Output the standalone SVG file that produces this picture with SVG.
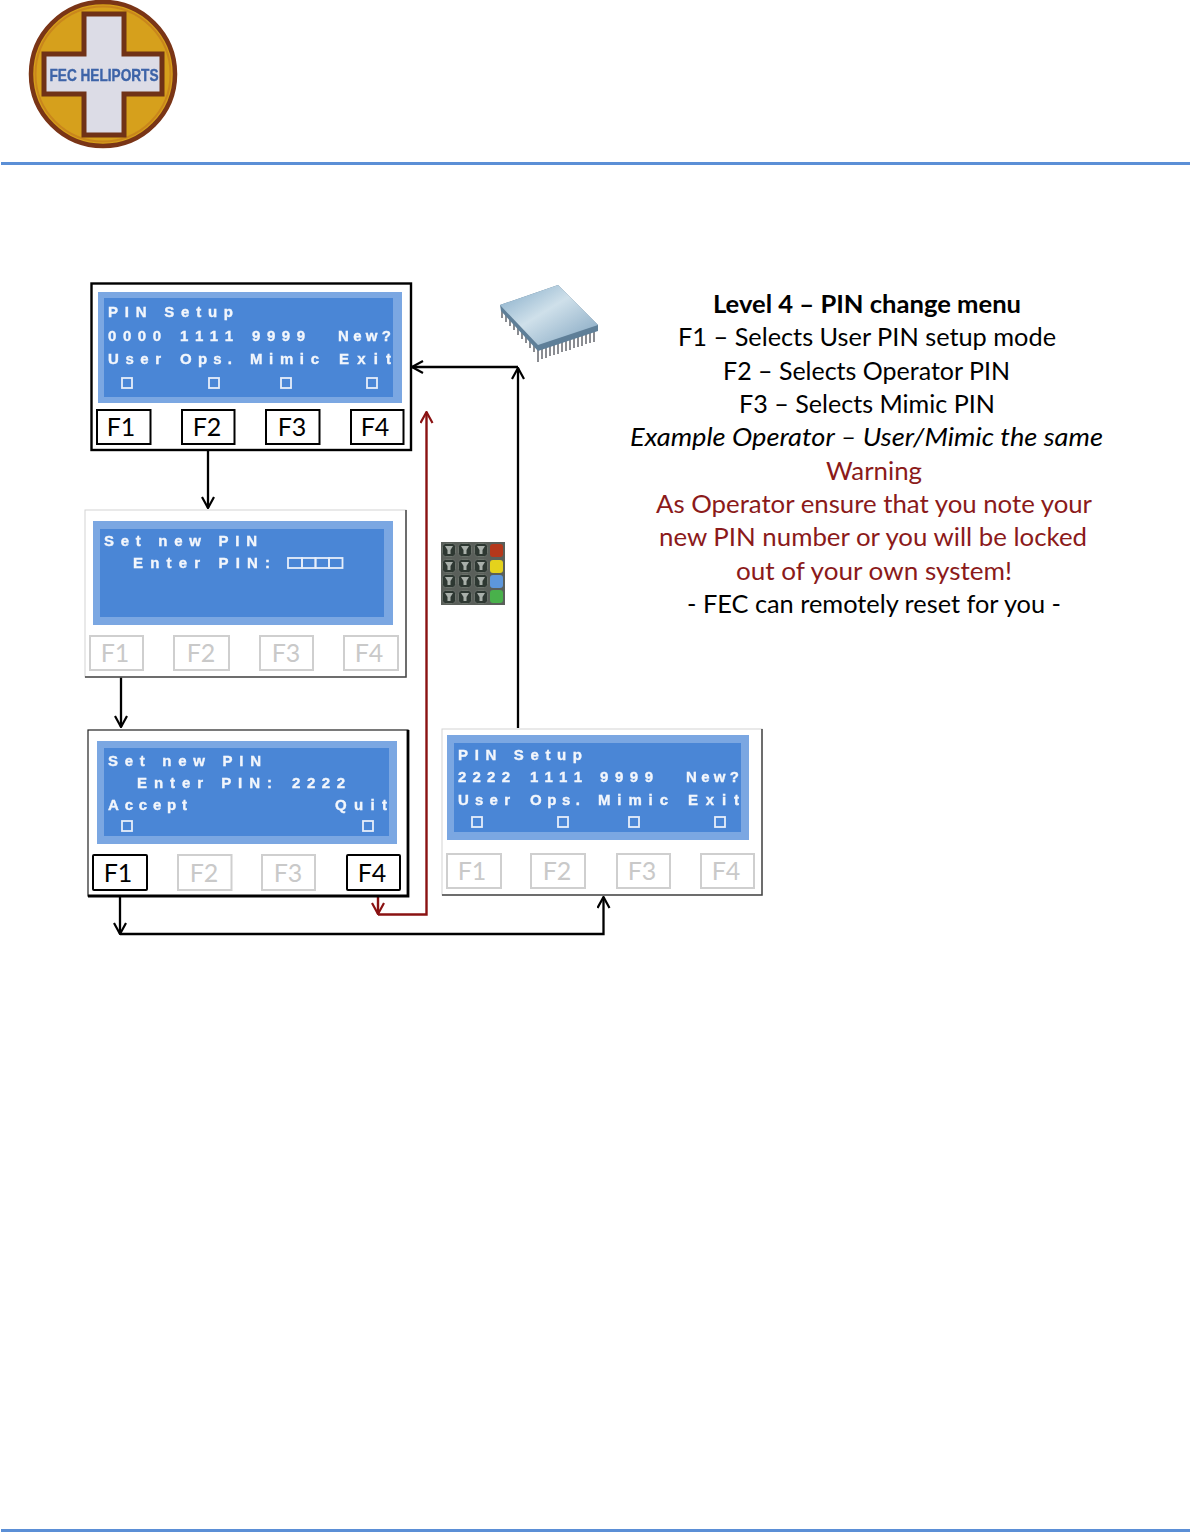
<svg xmlns="http://www.w3.org/2000/svg" width="1190" height="1532" viewBox="0 0 1190 1532">
<style>
.lcdo{fill:#7ba7e2}.lcdi{fill:#4a86d6}
.lt{font-family:"Liberation Sans",Arial,sans-serif;font-weight:bold;font-size:15px;fill:#f2f6fc;stroke:#f2f6fc;stroke-width:0.35}
.blur{filter:url(#soft)}
.cb{fill:none;stroke:#e6eefa;stroke-width:1.8}
.btn{fill:#fff;stroke:#000;stroke-width:2}
.btnf{fill:#fff;stroke:#cfcfcf;stroke-width:2}
.bt{font-family:Lato,"Open Sans",sans-serif;font-size:25px;text-anchor:middle;fill:#000}
.btf{font-family:Lato,"Open Sans",sans-serif;font-size:25px;text-anchor:middle;fill:#c9c9c9}
.t{font-family:Lato,"Open Sans",sans-serif;font-size:25px;fill:#000}
.w{fill:#8b1a1a}
.c{fill:none;stroke:#000;stroke-width:2.3}
.r{fill:none;stroke:#8a1212;stroke-width:2.4}
.rule{stroke:#5b8fd6;stroke-width:3}
.key{fill:#2f3833;stroke:#6a716b;stroke-width:1}
.kc{fill:#a9b0aa}
</style>
<defs>
<filter id="soft" x="-5%" y="-20%" width="110%" height="140%"><feGaussianBlur stdDeviation="0.45"/></filter>
<filter id="soft2" x="-5%" y="-5%" width="110%" height="110%"><feGaussianBlur stdDeviation="0.7"/></filter>
<linearGradient id="chip" x1="0" y1="0" x2="1" y2="1"><stop offset="0" stop-color="#7fa8c6"/><stop offset="0.45" stop-color="#cfe0ea"/><stop offset="1" stop-color="#7fa3bf"/></linearGradient>
<marker id="a" viewBox="0 0 14 14" refX="13" refY="7" markerWidth="14" markerHeight="14" markerUnits="userSpaceOnUse" orient="auto"><path d="M2 1L13 7L2 13" fill="none" stroke="#000" stroke-width="2.2"/></marker>
<marker id="ar" viewBox="0 0 14 14" refX="13" refY="7" markerWidth="14" markerHeight="14" markerUnits="userSpaceOnUse" orient="auto"><path d="M2 1L13 7L2 13" fill="none" stroke="#8a1212" stroke-width="2.2"/></marker>
<g id="k"><rect class="key" x="-6.5" y="-6.5" width="13" height="13" rx="3"/><path class="kc" d="M-4-4H4L1.500 0V4H-1.500V0Z"/></g>
</defs>

<rect width="1190" height="1532" fill="#fff"/>
<line class="rule" x1="1" y1="163.500" x2="1190" y2="163.500"/>
<line class="rule" x1="1" y1="1530.500" x2="1190" y2="1530.500"/>

<g id="logo">
<g filter="url(#soft2)">
<circle cx="103" cy="74" r="72" fill="#d6a01a" stroke="#7a3418" stroke-width="4.500"/>
<circle cx="103" cy="74" r="67.500" fill="none" stroke="#c9861e" stroke-width="2"/>
<path d="M84 14H124V54H162V94H124V135H84V94H44V54H84Z" fill="#dcdce6" stroke="#6f3216" stroke-width="5"/>
</g>
<text x="104" y="81" text-anchor="middle" textLength="109" lengthAdjust="spacingAndGlyphs" font-family="Liberation Sans,Arial,sans-serif" font-weight="bold" font-size="17" fill="#3d64a8" stroke="#3d64a8" stroke-width="0.4" class="blur">FEC HELIPORTS</text>
</g>

<g id="connectors">
<path class="c" d="M208 450V508" marker-end="url(#a)"/>
<path class="c" d="M121 677V727" marker-end="url(#a)"/>
<path class="c" d="M120 896V934" marker-end="url(#a)"/>
<path class="c" d="M120 934H603.500V897" marker-end="url(#a)"/>
<path class="c" d="M518 728V368" marker-end="url(#a)"/>
<path class="c" d="M518 367H412" marker-end="url(#a)"/>
<path class="r" d="M378 896V914" marker-end="url(#ar)"/>
<path class="r" d="M378 914.500H426.500V412" marker-end="url(#ar)"/>
</g>

<g id="panel-pin-setup">
<rect x="91.500" y="283.500" width="319.500" height="166.500" fill="#fff" stroke="#000" stroke-width="2.400"/>
<rect class="lcdo" x="98" y="292" width="304" height="111"/>
<rect class="lcdi" x="104" y="298" width="289" height="99"/>
<g class="blur">
<text class="lt" x="108" y="317" textLength="125" lengthAdjust="spacing">PIN Setup</text>
<text class="lt" x="108" y="341" textLength="53" lengthAdjust="spacing">0000</text>
<text class="lt" x="180" y="341" textLength="53" lengthAdjust="spacing">1111</text>
<text class="lt" x="252" y="341" textLength="53" lengthAdjust="spacing">9999</text>
<text class="lt" x="338" y="341" textLength="53" lengthAdjust="spacing">New?</text>
<text class="lt" x="108" y="364" textLength="53" lengthAdjust="spacing">User</text>
<text class="lt" x="180" y="364" textLength="52" lengthAdjust="spacing">Ops.</text>
<text class="lt" x="250" y="364" textLength="69" lengthAdjust="spacing">Mimic</text>
<text class="lt" x="339" y="364" textLength="52" lengthAdjust="spacing">Exit</text>
<rect class="cb" x="122" y="378" width="10" height="10"/><rect class="cb" x="209" y="378" width="10" height="10"/><rect class="cb" x="281" y="378" width="10" height="10"/><rect class="cb" x="367" y="378" width="10" height="10"/>
</g>
<rect class="btn" x="97" y="410" width="53.500" height="34"/><text class="bt" x="121" y="436">F1</text>
<rect class="btn" x="182" y="410" width="52.500" height="34"/><text class="bt" x="207" y="436">F2</text>
<rect class="btn" x="266" y="410" width="53.500" height="34"/><text class="bt" x="292" y="436">F3</text>
<rect class="btn" x="351" y="410" width="52.500" height="34"/><text class="bt" x="375" y="436">F4</text>
</g>

<g id="panel-set-new-pin">
<rect x="85" y="510" width="321" height="167" fill="#fff" stroke="#d4d4d4" stroke-width="1"/>
<path d="M406 510V677H85" fill="none" stroke="#444" stroke-width="1.500"/>
<rect class="lcdo" x="93" y="521" width="300" height="104"/>
<rect class="lcdi" x="100" y="529" width="284" height="88"/>
<g class="blur">
<text class="lt" x="104" y="546" textLength="153" lengthAdjust="spacing">Set new PIN</text>
<text class="lt" x="133" y="568" textLength="137" lengthAdjust="spacing">Enter PIN:</text>
<rect class="cb" x="288" y="558" width="14" height="10"/><rect class="cb" x="302" y="558" width="13.500" height="10"/><rect class="cb" x="315.500" y="558" width="13.500" height="10"/><rect class="cb" x="329" y="558" width="13.500" height="10"/>
</g>
<rect class="btnf" x="90" y="636" width="53" height="34"/><text class="btf" x="115" y="662">F1</text>
<rect class="btnf" x="174" y="636" width="55" height="34"/><text class="btf" x="201" y="662">F2</text>
<rect class="btnf" x="260" y="636" width="53" height="34"/><text class="btf" x="286" y="662">F3</text>
<rect class="btnf" x="344" y="636" width="54" height="34"/><text class="btf" x="369" y="662">F4</text>
</g>

<g id="panel-enter-pin">
<rect x="88" y="730" width="320" height="166" fill="#fff" stroke="#222" stroke-width="1.200"/>
<path d="M408 730V896H88" fill="none" stroke="#000" stroke-width="2.800"/>
<rect class="lcdo" x="97" y="741" width="300" height="103"/>
<rect class="lcdi" x="104" y="748" width="285" height="88"/>
<g class="blur">
<text class="lt" x="108" y="766" textLength="153" lengthAdjust="spacing">Set new PIN</text>
<text class="lt" x="137" y="788" textLength="135" lengthAdjust="spacing">Enter PIN:</text>
<text class="lt" x="292" y="788" textLength="53" lengthAdjust="spacing">2222</text>
<text class="lt" x="108" y="810" textLength="79" lengthAdjust="spacing">Accept</text>
<text class="lt" x="335" y="810" textLength="52" lengthAdjust="spacing">Quit</text>
<rect class="cb" x="122" y="821" width="10" height="10"/><rect class="cb" x="363" y="821" width="10" height="10"/>
</g>
<rect class="btn" x="93" y="855" width="54" height="35" rx="1" stroke-width="2.500"/><text class="bt" x="118" y="882">F1</text>
<rect class="btnf" x="178" y="855" width="53.500" height="35"/><text class="btf" x="204" y="882">F2</text>
<rect class="btnf" x="262" y="855" width="53" height="35"/><text class="btf" x="288" y="882">F3</text>
<rect class="btn" x="347" y="855" width="53" height="35" rx="1" stroke-width="2.500"/><text class="bt" x="372" y="882">F4</text>
</g>

<g id="panel-new-pin-setup">
<rect x="442" y="729" width="320" height="166" fill="#fff" stroke="#d4d4d4" stroke-width="1"/>
<path d="M762 729V895H442" fill="none" stroke="#444" stroke-width="1.500"/>
<rect class="lcdo" x="447" y="735" width="302" height="105"/>
<rect class="lcdi" x="454" y="743" width="287" height="89"/>
<g class="blur">
<text class="lt" x="458" y="760" textLength="124" lengthAdjust="spacing">PIN Setup</text>
<text class="lt" x="458" y="782" textLength="52" lengthAdjust="spacing">2222</text>
<text class="lt" x="530" y="782" textLength="52" lengthAdjust="spacing">1111</text>
<text class="lt" x="600" y="782" textLength="53" lengthAdjust="spacing">9999</text>
<text class="lt" x="686" y="782" textLength="53" lengthAdjust="spacing">New?</text>
<text class="lt" x="458" y="805" textLength="52" lengthAdjust="spacing">User</text>
<text class="lt" x="530" y="805" textLength="50" lengthAdjust="spacing">Ops.</text>
<text class="lt" x="598" y="805" textLength="70" lengthAdjust="spacing">Mimic</text>
<text class="lt" x="688" y="805" textLength="51" lengthAdjust="spacing">Exit</text>
<rect class="cb" x="472" y="817" width="10" height="10"/><rect class="cb" x="558" y="817" width="10" height="10"/><rect class="cb" x="629" y="817" width="10" height="10"/><rect class="cb" x="715" y="817" width="10" height="10"/>
</g>
<rect class="btnf" x="447" y="854" width="54" height="34"/><text class="btf" x="472" y="880">F1</text>
<rect class="btnf" x="531" y="854" width="54" height="34"/><text class="btf" x="557" y="880">F2</text>
<rect class="btnf" x="617" y="854" width="53" height="34"/><text class="btf" x="642" y="880">F3</text>
<rect class="btnf" x="701" y="854" width="53" height="34"/><text class="btf" x="726" y="880">F4</text>
</g>

<g id="chip" filter="url(#soft)">
<path fill="none" stroke="#63686d" stroke-width="1.500" d="M502 309v9M506 313v9M510 317v9M514 321v9M518 326v9M522 330v9M526 334v9M530 338v10M534 342v10M538 347v15M542 346v13M546 345v13M550 343v13M554 342v13M558 341v13M562 339v13M566 338v13M570 337v13M574 335v13M578 334v13M582 333v13M586 331v13M590 330v13M594 329v13"/>
<path d="M558 285L500 305L501 311L538 351L598 331L598 325Z" fill="#5f7f98"/>
<path d="M558 285L500 305L538 345L598 325Z" fill="url(#chip)"/>
</g>

<g id="keypad" filter="url(#soft)">
<rect x="441" y="542" width="64" height="63" fill="#5a5f5a"/>
<use href="#k" x="449" y="550"/><use href="#k" x="465" y="550"/><use href="#k" x="481" y="550"/>
<use href="#k" x="449" y="566"/><use href="#k" x="465" y="566"/><use href="#k" x="481" y="566"/>
<use href="#k" x="449" y="581"/><use href="#k" x="465" y="581"/><use href="#k" x="481" y="581"/>
<use href="#k" x="449" y="597"/><use href="#k" x="465" y="597"/><use href="#k" x="481" y="597"/>
<rect x="490" y="544" width="13" height="13" rx="3" fill="#b5391c"/>
<rect x="490" y="560" width="13" height="13" rx="3" fill="#e4d21f"/>
<rect x="490" y="575" width="13" height="13" rx="3" fill="#5d97dc"/>
<rect x="490" y="590" width="13" height="13" rx="3" fill="#49b14c"/>
</g>

<g id="description">
<text class="t" x="713" y="313" font-weight="bold" textLength="308" lengthAdjust="spacingAndGlyphs">Level 4 – PIN change menu</text>
<text class="t" x="678" y="346" textLength="378" lengthAdjust="spacingAndGlyphs">F1 – Selects User PIN setup mode</text>
<text class="t" x="723" y="380" textLength="287" lengthAdjust="spacingAndGlyphs">F2 – Selects Operator PIN</text>
<text class="t" x="739" y="413" textLength="256" lengthAdjust="spacingAndGlyphs">F3 – Selects Mimic PIN</text>
<text class="t" x="630" y="446" font-style="italic" textLength="473" lengthAdjust="spacingAndGlyphs">Example Operator – User/Mimic the same</text>
<text class="t w" x="826" y="480" textLength="96" lengthAdjust="spacingAndGlyphs">Warning</text>
<text class="t w" x="656" y="513" textLength="436" lengthAdjust="spacingAndGlyphs">As Operator ensure that you note your</text>
<text class="t w" x="659" y="546" textLength="428" lengthAdjust="spacingAndGlyphs">new PIN number or you will be locked</text>
<text class="t w" x="736" y="580" textLength="276" lengthAdjust="spacingAndGlyphs">out of your own system!</text>
<text class="t" x="687" y="613" textLength="374" lengthAdjust="spacingAndGlyphs">- FEC can remotely reset for you -</text>
</g>
</svg>
